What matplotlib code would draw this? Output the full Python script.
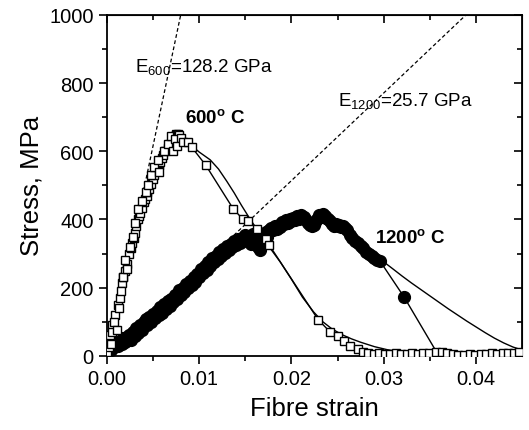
import numpy as np
import matplotlib
matplotlib.use("Agg")
import matplotlib.pyplot as plt

plt.rcParams['font.family'] = ['Liberation Sans', 'DejaVu Sans']
plt.rcParams['mathtext.fontset'] = 'custom'
plt.rcParams['mathtext.rm'] = 'Liberation Sans'
plt.rcParams['mathtext.it'] = 'Liberation Sans:italic'
plt.rcParams['mathtext.bf'] = 'Liberation Sans:bold'

# 600 C measured points (open squares)
strain_600 = [0.0000, 0.0003, 0.0002, 0.0006, 0.0004, 0.0009, 0.0006, 0.0008, 0.0012, 0.0014,
              0.0011, 0.0016, 0.0013, 0.0018, 0.0020, 0.0015, 0.0022, 0.0024, 0.0018, 0.0026,
              0.0027, 0.0020, 0.0029, 0.0030, 0.0022, 0.0032, 0.0034, 0.0025, 0.0035, 0.0036,
              0.0028, 0.0038, 0.0040, 0.0030, 0.0041, 0.0043, 0.0034, 0.0044, 0.0046, 0.0038,
              0.0048, 0.0050, 0.0042, 0.0051, 0.0053, 0.0045, 0.0055, 0.0056, 0.0048, 0.0057,
              0.0058, 0.0051, 0.0060, 0.0061, 0.0055, 0.0063, 0.0066, 0.0057, 0.0067, 0.0069,
              0.0062, 0.0071, 0.0073, 0.0066, 0.0074, 0.0075, 0.0070, 0.0076, 0.0077, 0.0072,
              0.0078, 0.0074, 0.0080, 0.0076,
              0.0083, 0.0088, 0.0092, 0.0107, 0.0137, 0.0147,
              0.0153, 0.0163, 0.0172, 0.0176, 0.0229, 0.0242, 0.0250, 0.0257, 0.0264, 0.0272,
              0.0278, 0.0283, 0.0289, 0.0295, 0.0301, 0.0307, 0.0313, 0.0319, 0.0325, 0.0331,
              0.0337, 0.0343, 0.0349, 0.0357, 0.0363, 0.0369, 0.0375, 0.0381, 0.0387, 0.0393,
              0.0399, 0.0405, 0.0411, 0.0417, 0.0423, 0.0429, 0.0435, 0.0441, 0.0447]
stress_600 = [10, 60, 25, 90, 35, 120, 70, 100, 150, 170,
              75, 215, 140, 230, 250, 190, 270, 300, 230, 315,
              330, 280, 345, 360, 255, 380, 400, 320, 410, 420,
              350, 435, 450, 390, 460, 470, 430, 480, 490, 455,
              505, 520, 480, 530, 545, 500, 550, 560, 530, 565,
              570, 555, 580, 590, 575, 600, 610, 540, 618, 625,
              600, 632, 640, 620, 645, 650, 645, 648, 652, 600,
              648, 635, 640, 615,
              628, 627, 612, 560, 431, 402,
              396, 372, 343, 325, 106, 70, 59, 44, 29, 20,
              12, 8, 6, 7, 5, 6, 8, 6, 5, 7,
              6, 8, 7, 12, 10, 7, 5, 4, 3, 5,
              4, 6, 5, 7, 6, 8, 9, 8, 10]

# 600 C fitted curve
fit_strain_600 = [0.0080, 0.0087, 0.0093, 0.0100, 0.0112, 0.0121, 0.0130, 0.0138, 0.0146, 0.0155,
                  0.0165, 0.0175, 0.0188, 0.0200, 0.0212, 0.0224, 0.0234, 0.0244, 0.0255, 0.0265,
                  0.0275, 0.0290, 0.0304, 0.0318, 0.0340, 0.0360]
fit_stress_600 = [633, 628, 614, 598, 575, 548, 512, 478, 441, 402,
                  362, 323, 275, 225, 172, 129, 100, 79, 62, 50,
                  40, 27, 18, 12, 6, 3]

# 1200 C measured points (filled circles)
strain_1200 = [0.0000, 0.0002, 0.0004, 0.0006, 0.0008, 0.0010, 0.0012, 0.0014, 0.0016, 0.0018,
               0.0020, 0.0022, 0.0024, 0.0026, 0.0028, 0.0030, 0.0032, 0.0034, 0.0036, 0.0038,
               0.0040, 0.0042, 0.0044, 0.0046, 0.0048, 0.0050, 0.0052, 0.0054, 0.0056, 0.0058,
               0.0060, 0.0062, 0.0064, 0.0066, 0.0068, 0.0070, 0.0072, 0.0074, 0.0076, 0.0078,
               0.0080, 0.0082, 0.0084, 0.0086, 0.0088, 0.0090, 0.0092, 0.0094, 0.0096, 0.0098,
               0.0100, 0.0102, 0.0104, 0.0106, 0.0108, 0.0110, 0.0112, 0.0114, 0.0116, 0.0118,
               0.0120, 0.0122, 0.0124, 0.0126, 0.0128, 0.0130, 0.0132, 0.0134, 0.0136, 0.0138,
               0.0140, 0.0142, 0.0144, 0.0146, 0.0148, 0.0150, 0.0152, 0.0154, 0.0156, 0.0158,
               0.0160, 0.0162, 0.0164, 0.0166, 0.0168, 0.0170, 0.0172, 0.0174, 0.0176, 0.0178,
               0.0180, 0.0182, 0.0184, 0.0186, 0.0188, 0.0190, 0.0192, 0.0194, 0.0196, 0.0198,
               0.0200, 0.0202, 0.0204, 0.0206, 0.0208, 0.0210, 0.0212, 0.0214, 0.0216, 0.0218,
               0.0220, 0.0222, 0.0224, 0.0226, 0.0228, 0.0230, 0.0232, 0.0234, 0.0236, 0.0238,
               0.0240, 0.0242, 0.0244, 0.0246, 0.0248, 0.0250, 0.0252, 0.0254, 0.0256, 0.0258,
               0.0260, 0.0263, 0.0266, 0.0269, 0.0272, 0.0275, 0.0278, 0.0281, 0.0284, 0.0287,
               0.0290, 0.0293, 0.0296, 0.0322]
stress_1200 = [22, 30, 18, 35, 26, 40, 30, 45, 36, 52,
               42, 55, 62, 48, 70, 58, 82, 68, 90, 76,
               98, 108, 90, 115, 100, 124, 110, 133, 120, 143,
               126, 153, 138, 160, 146, 168, 158, 180, 166, 192,
               178, 200, 186, 210, 198, 220, 208, 230, 218, 240,
               230, 254, 243, 264, 253, 274, 263, 287, 276, 294,
               283, 304, 294, 314, 303, 322, 310, 328, 318, 336,
               326, 342, 330, 347, 336, 354, 340, 350, 328, 358,
               345, 332, 318, 310, 338, 355, 362, 350, 368, 375,
               370, 380, 372, 385, 378, 392, 386, 398, 390, 402,
               395, 405, 398, 410, 402, 412, 405, 408, 398, 390,
               384, 380, 385, 392, 400, 412, 408, 415, 410, 405,
               400, 395, 388, 382, 386, 380, 384, 378, 382, 374,
               368, 355, 345, 338, 330, 322, 315, 305, 298, 292,
               286, 282, 278, 173]
tail_strain_1200 = [0.0322, 0.0358]
tail_stress_1200 = [173, 8]

# 1200 C fitted curve
fit_strain_1200 = [0.0265, 0.0280, 0.0297, 0.0310, 0.0320, 0.0330, 0.0340, 0.0350, 0.0360, 0.0370,
                   0.0380, 0.0390, 0.0400, 0.0410, 0.0420, 0.0430, 0.0440, 0.0450]
fit_stress_1200 = [360, 315, 282, 255, 234, 214, 195, 176, 157, 138,
                   120, 102, 85, 68, 52, 38, 26, 17]

# elastic moduli (GPa) for the dashed lines
E_600 = 128.2
E_1200 = 25.7

fig = plt.figure(figsize=(5.29, 4.31), dpi=100)
ax = fig.add_axes([0.202, 0.172, 0.785, 0.791])

# dashed modulus lines
e_strain_600 = np.array([0.0002, 0.0002 + 1000 / (E_600 * 1000)])
ax.plot(e_strain_600, (e_strain_600 - 0.0002) * E_600 * 1000, color='black',
        linestyle=(0, (3, 2)), linewidth=0.9, zorder=1)
e_strain_1200 = np.array([0.0, 1000 / (E_1200 * 1000)])
ax.plot(e_strain_1200, e_strain_1200 * E_1200 * 1000, color='black',
        linestyle=(0, (3, 2)), linewidth=0.9, zorder=1)

# fits
ax.plot(fit_strain_600, fit_stress_600, color='black', linewidth=1.0, zorder=2)
ax.plot(fit_strain_1200, fit_stress_1200, color='black', linewidth=1.0, zorder=2)

# data
ax.plot(tail_strain_1200, tail_stress_1200, color='black', linewidth=1.0, zorder=3)
ax.plot(strain_1200, stress_1200, color='black', linewidth=1.0, marker='o',
        markersize=8.5, markerfacecolor='black', markeredgecolor='black', zorder=3)
ax.plot(strain_600, stress_600, color='black', linewidth=1.0, marker='s',
        markersize=6.3, markerfacecolor='white', markeredgecolor='black',
        markeredgewidth=1.0, zorder=4)

# annotations
ax.text(0.0031, 836, r'E$_{600}$=128.2 GPa', fontsize=13.5)
ax.text(0.0085, 686, r'600$^{\mathbf{o}}$ C', fontsize=13.5, fontweight='bold')
ax.text(0.0250, 736, r'E$_{1200}$=25.7 GPa', fontsize=13.5)
ax.text(0.0291, 334, r'1200$^{\mathbf{o}}$ C', fontsize=13.5, fontweight='bold')

ax.set_xlim(0, 0.045)
ax.set_ylim(0, 1000)
ax.set_xticks([0.00, 0.01, 0.02, 0.03, 0.04])
ax.set_xticklabels(['0.00', '0.01', '0.02', '0.03', '0.04'])
ax.set_xticks(np.arange(0.005, 0.045, 0.01), minor=True)
ax.set_yticks([0, 200, 400, 600, 800, 1000])
ax.set_yticks([100, 300, 500, 700, 900], minor=True)
ax.tick_params(which='major', direction='out', length=6, width=1.2, labelsize=14.5)
ax.tick_params(which='minor', direction='out', length=3.5, width=1.2)
for s in ax.spines.values():
    s.set_linewidth(1.3)

# inward ticks on top and right
top = ax.secondary_xaxis('top')
top.set_xticks([0.00, 0.01, 0.02, 0.03, 0.04])
top.set_xticks(np.arange(0.005, 0.045, 0.01), minor=True)
top.tick_params(which='major', direction='in', length=6, width=1.2, labeltop=False)
top.tick_params(which='minor', direction='in', length=3.5, width=1.2)
right = ax.secondary_yaxis('right')
right.set_yticks([0, 200, 400, 600, 800, 1000])
right.set_yticks([100, 300, 500, 700, 900], minor=True)
right.tick_params(which='major', direction='in', length=6, width=1.2, labelright=False)
right.tick_params(which='minor', direction='in', length=3.5, width=1.2)

ax.set_xlabel('Fibre strain', fontsize=18.5, labelpad=6)
ax.set_ylabel('Stress, MPa', fontsize=18.5, labelpad=4)

fig.savefig('out.png', dpi=100)
